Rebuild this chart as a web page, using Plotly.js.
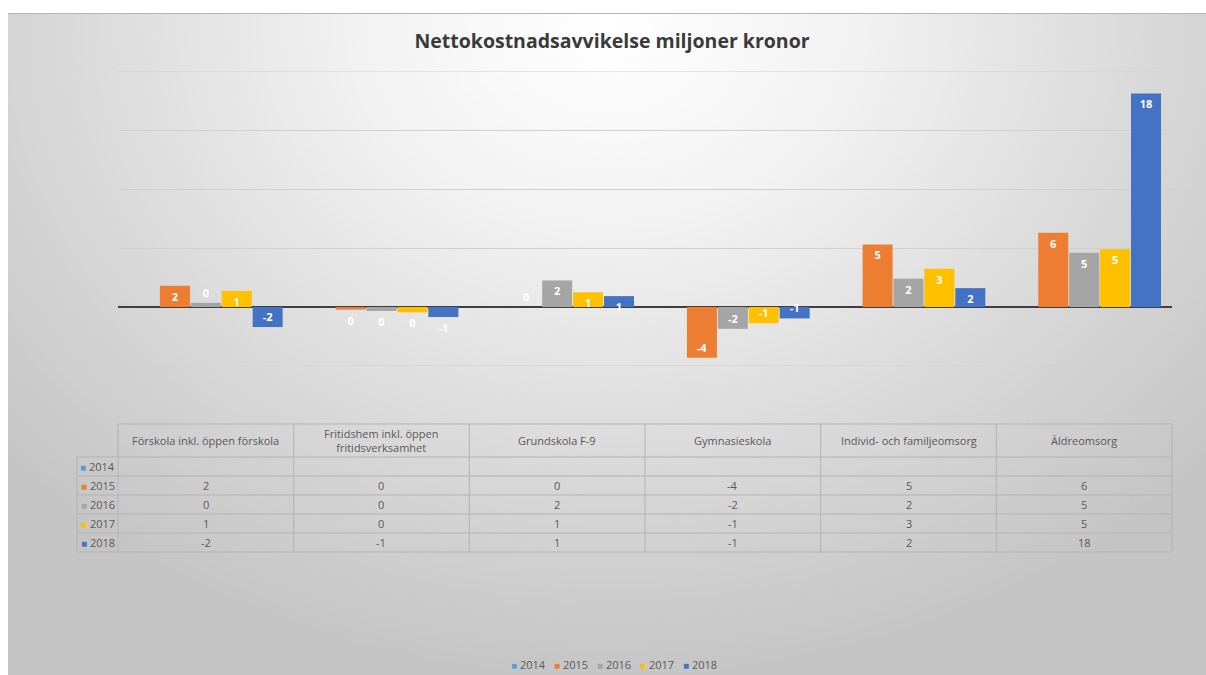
<!DOCTYPE html>
<html>
<head>
<meta charset="utf-8">
<script src="https://cdn.plot.ly/plotly-3.0.1.min.js"></script>
<style>
  html, body { margin:0; padding:0; background:#ffffff; width:1206px; height:675px; overflow:hidden; }
  #bg { position:absolute; left:8px; top:13px; width:1198px; height:662px;
        border-top:1px solid #b5b5b5;
        background: radial-gradient(ellipse 68% 100% at 50% 2%, #ffffff 0%, #f2f2f2 30%, #dadada 65%, #c4c4c4 100%); }
  #chart { position:absolute; left:0; top:0; width:1206px; height:675px; }
</style>
</head>
<body>
<div id="bg"></div>
<div id="chart"></div>
<script>
// ---- data ----
const categories = ['Förskola inkl. öppen förskola', 'Fritidshem inkl. öppen<br>fritidsverksamhet', 'Grundskola F-9', 'Gymnasieskola', 'Individ- och familjeomsorg', 'Äldreomsorg'];
const years = ['2014', '2015', '2016', '2017', '2018'];
const v2014 = [null, null, null, null, null, null];
const v2015 = [1.8, -0.22, 0, -4.3, 5.3, 6.3];
const v2016 = [0.35, -0.34, 2.25, -1.85, 2.4, 4.6];
const v2017 = [1.36, -0.45, 1.25, -1.37, 3.25, 4.9];
const v2018 = [-1.7, -0.85, 0.92, -0.97, 1.6, 18.1];
const seriesValues = [v2014, v2015, v2016, v2017, v2018];
const colors = ['#5B9BD5', '#ED7D31', '#A5A5A5', '#FFC000', '#4472C4'];
const yRange = [-5, 20];
const yStep = 5;

// ---- helpers ----
function fmt(v) {
  if (v === null || v === undefined) return '';
  const r = Math.round(v);
  return String(r === 0 ? 0 : r);
}
const W = 1206, H = 675;
const px = x => x / W;            // pixel -> paper x
const py = y => 1 - y / H;        // pixel -> paper y

const tableLeft = 77, plotLeft = 118, plotRight = 1172;
const plotTop = 71, plotBottom = 366;
const headTop = 424, headBottom = 457, rowH = 19;
const nRows = years.length;
const tableBottom = headBottom + rowH * nRows;
const colW = (plotRight - plotLeft) / categories.length;

const font = 'Open Sans, Liberation Sans, sans-serif';
const textColor = '#595959';
const lineCol = '#b3b3b3';
const gridCol = '#d0d0d0';

const traces = years.map((yr, i) => {
  const vals = seriesValues[i];
  return {
    type: 'bar',
    name: yr,
    x: categories,
    y: vals,
    marker: { color: colors[i] },
    text: vals.map(fmt),
    texttemplate: '%{text}',
    textposition: vals.map(v => (v !== null && Math.abs(v) >= 0.9) ? 'inside' : 'outside'),
    insidetextanchor: 'end',
    textangle: 0,
    constraintext: 'none',
    textfont: { family: font, size: 11, color: '#ffffff', weight: 'bold' },
    outsidetextfont: { family: font, size: 11, color: '#ffffff', weight: 'bold' },
    insidetextfont: { family: font, size: 11, color: '#ffffff', weight: 'bold' },
    cliponaxis: false,
    showlegend: false
  };
});

const shapes = [];
const annotations = [];

// gridlines at the range edges (Plotly drops those at the plot border)
[yRange[0], yRange[1]].forEach(v => {
  shapes.push({ type: 'line', xref: 'paper', yref: 'y', x0: px(plotLeft), x1: px(plotRight), y0: v, y1: v,
                line: { color: gridCol, width: 1 }, layer: 'below' });
});

// ---- data table drawn with shapes + annotations ----
function hline(y, x0, x1) {
  shapes.push({ type: 'line', xref: 'paper', yref: 'paper', x0: px(x0), x1: px(x1), y0: py(y), y1: py(y),
                line: { color: lineCol, width: 1 } });
}
function vline(x, y0, y1) {
  shapes.push({ type: 'line', xref: 'paper', yref: 'paper', x0: px(x), x1: px(x), y0: py(y0), y1: py(y1),
                line: { color: lineCol, width: 1 } });
}
hline(headTop, plotLeft, plotRight);
for (let r = 0; r <= nRows; r++) hline(headBottom + r * rowH, tableLeft, plotRight);
vline(tableLeft, headBottom, tableBottom);
for (let c = 0; c <= categories.length; c++) vline(plotLeft + c * colW, headTop, tableBottom);

categories.forEach((c, ci) => {
  annotations.push({ xref: 'paper', yref: 'paper', x: px(plotLeft + (ci + 0.5) * colW), y: py((headTop + headBottom) / 2),
    xanchor: 'center', yanchor: 'middle', text: c, showarrow: false,
    font: { family: font, size: 11, color: textColor } });
});
years.forEach((yr, i) => {
  const yc = headBottom + (i + 0.5) * rowH;
  annotations.push({ xref: 'paper', yref: 'paper', x: px((tableLeft + plotLeft) / 2), y: py(yc),
    xanchor: 'center', yanchor: 'middle', showarrow: false,
    text: '<span style="color:' + colors[i] + ';font-size:10px">■</span> ' + yr,
    font: { family: font, size: 11, color: textColor } });
  categories.forEach((c, ci) => {
    const t = fmt(seriesValues[i][ci]);
    if (t === '') return;
    annotations.push({ xref: 'paper', yref: 'paper', x: px(plotLeft + (ci + 0.5) * colW), y: py(yc),
      xanchor: 'center', yanchor: 'middle', text: t, showarrow: false,
      font: { family: font, size: 11, color: textColor } });
  });
});

// ---- legend (bottom) ----
const legendStart = 509, legendPitch = 43;
years.forEach((yr, i) => {
  annotations.push({ xref: 'paper', yref: 'paper', x: px(legendStart + i * legendPitch), y: py(664),
    xanchor: 'left', yanchor: 'middle', showarrow: false,
    text: '<span style="color:' + colors[i] + ';font-size:10px">■</span> ' + yr,
    font: { family: font, size: 11, color: textColor } });
});

const layout = {
  width: W, height: H,
  paper_bgcolor: 'rgba(0,0,0,0)',
  plot_bgcolor: 'rgba(0,0,0,0)',
  margin: { l: 0, r: 0, t: 0, b: 0, pad: 0 },
  title: {
    text: 'Nettokostnadsavvikelse miljoner kronor',
    font: { family: font, size: 19.5, color: '#3a3a3a', weight: 'bold' },
    xref: 'container', x: px(612), xanchor: 'center',
    yref: 'container', y: py(41), yanchor: 'middle'
  },
  showlegend: false,
  barmode: 'group',
  bargap: 0.12,
  bargroupgap: 0.03,
  xaxis: {
    domain: [px(plotLeft), px(plotRight)],
    showticklabels: false, showgrid: false, zeroline: false, showline: false, ticks: '',
    fixedrange: true
  },
  yaxis: {
    domain: [py(plotBottom), py(plotTop)],
    range: yRange,
    tick0: 0, dtick: yStep,
    showticklabels: false,
    gridcolor: gridCol, gridwidth: 1,
    zeroline: true, zerolinecolor: '#3f3f3f', zerolinewidth: 2,
    showline: false, ticks: '',
    fixedrange: true
  },
  shapes: shapes,
  annotations: annotations
};

Plotly.newPlot('chart', traces, layout, { displayModeBar: false, staticPlot: true });
</script>
</body>
</html>
